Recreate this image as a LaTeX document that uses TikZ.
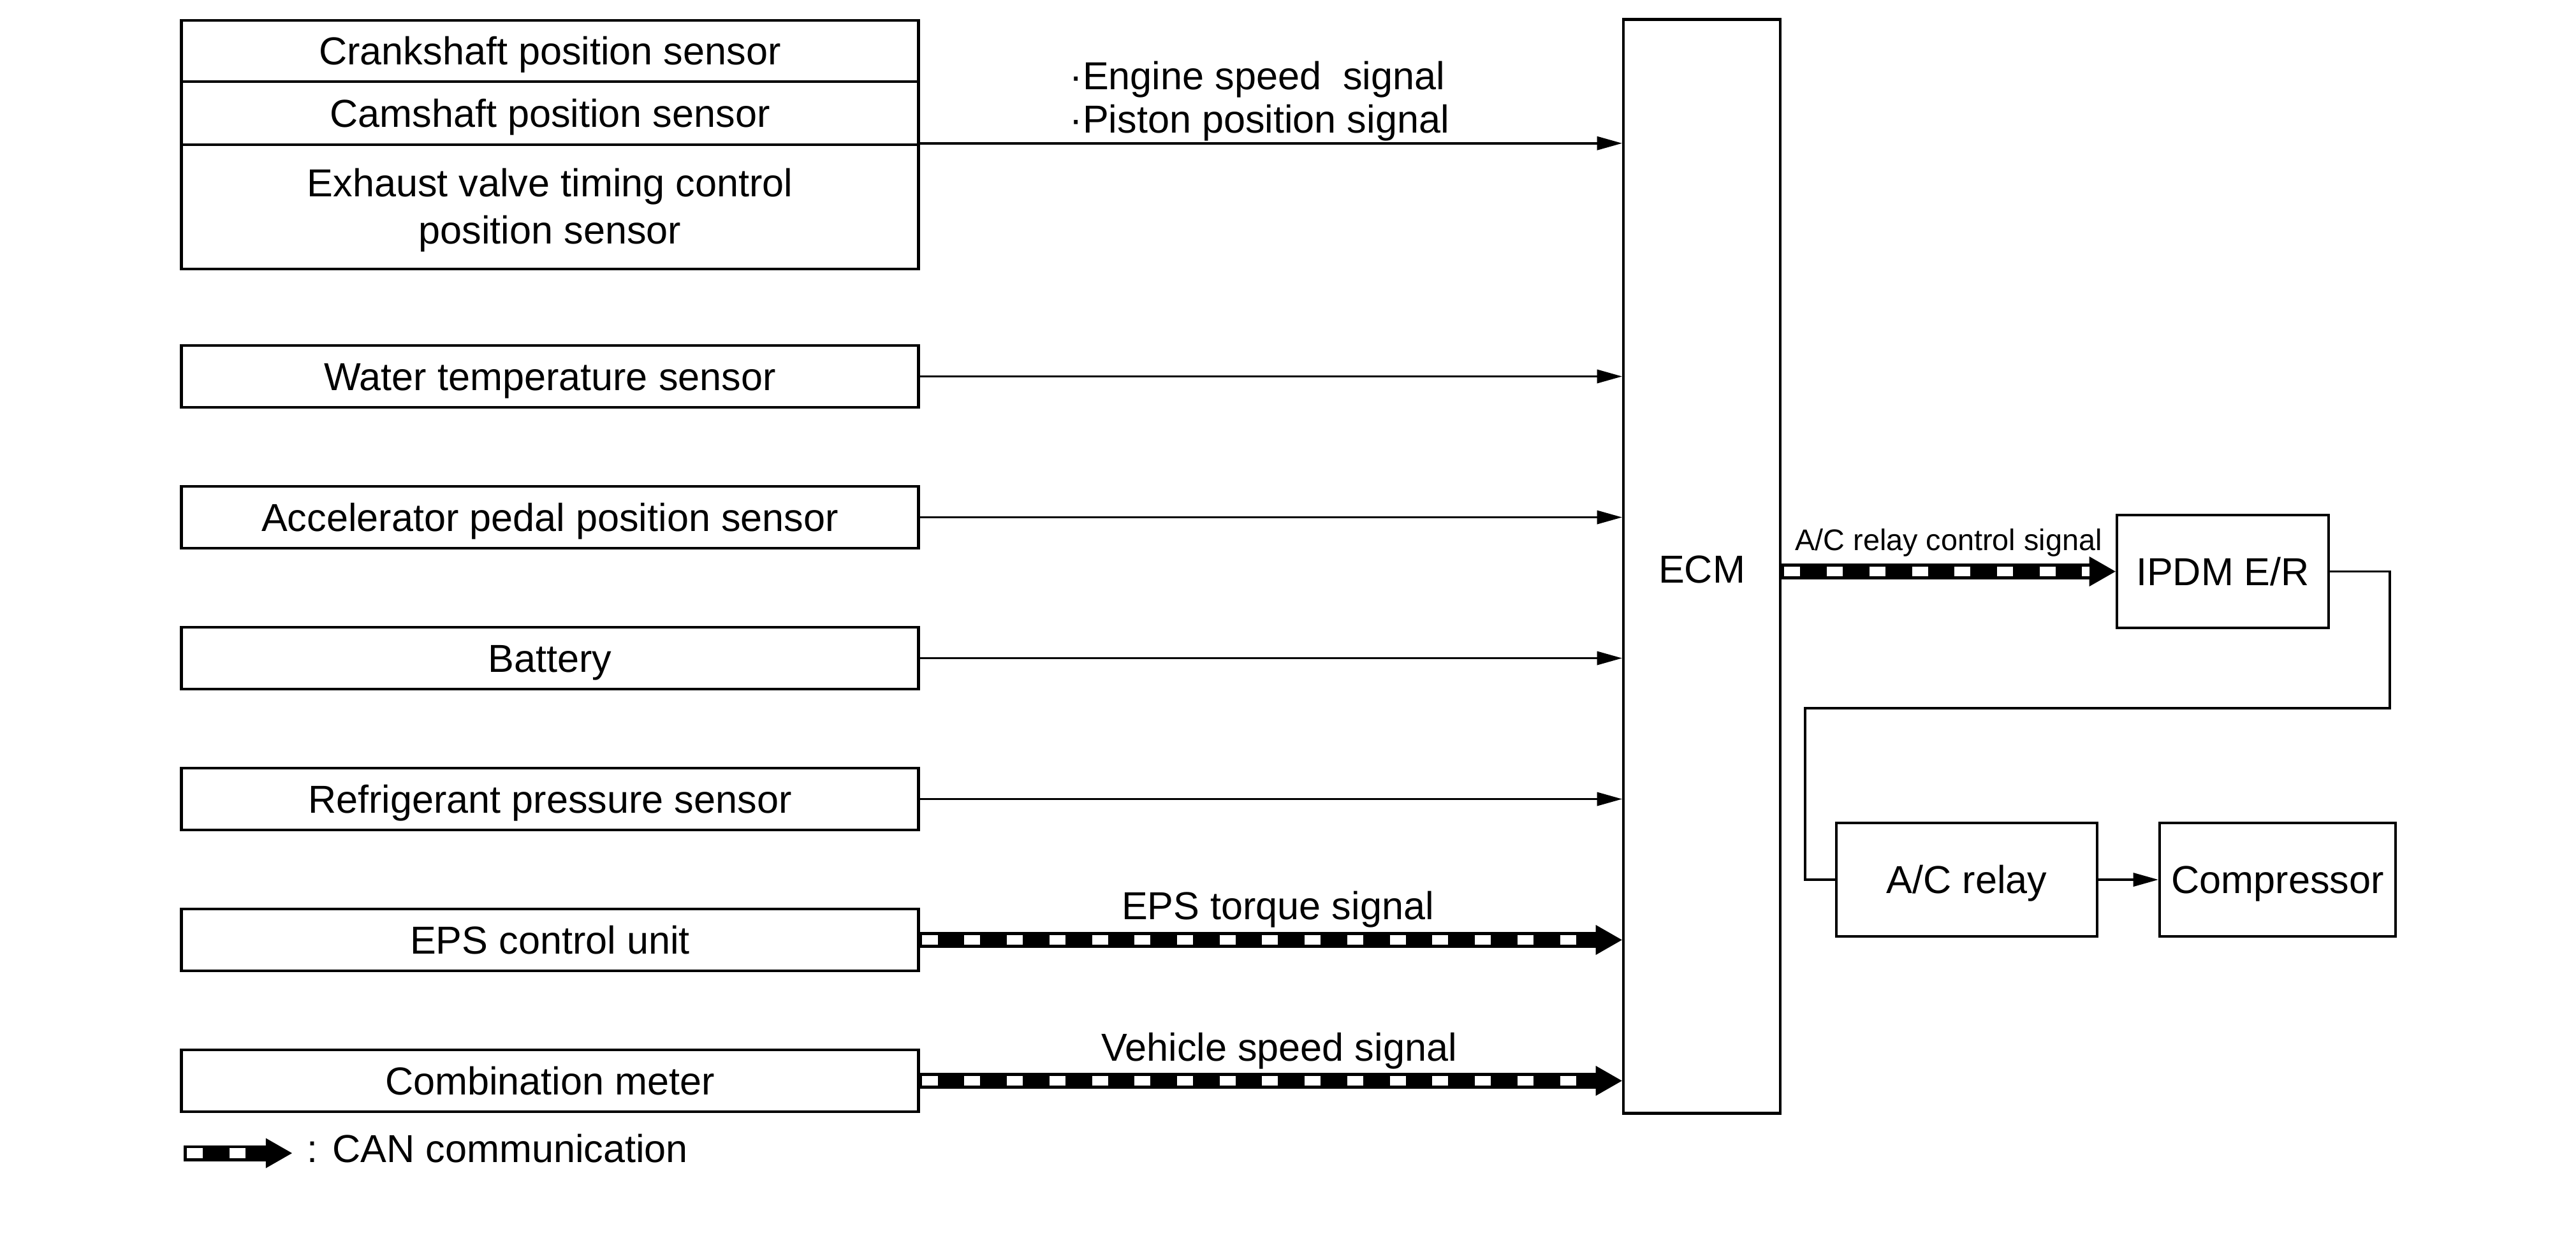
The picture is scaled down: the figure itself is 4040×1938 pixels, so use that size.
\documentclass[tikz,border=0pt]{standalone}
\usepackage{fontspec}
\setmainfont{Liberation Sans}
\usetikzlibrary{arrows.meta}
\begin{document}
\begin{tikzpicture}[x=0.01cm,y=-0.01cm,
  txt/.style={font=\fontsize{17.4}{19.8}\selectfont},
  frame/.style={draw, line width=1.25pt, inner sep=0pt, txt},
  box/.style={frame, text height=0.438cm, text depth=0pt},
  sig/.style={line width=1pt, -{Triangle[length=0.39cm,width=0.22cm,line width=0pt]}},
  wire/.style={line width=1pt},
  canbar/.style={line width=0.25cm, -{Triangle[length=0.41cm,width=0.47cm,line width=0pt]}},
  canwhite/.style={draw=white, line width=0.155cm, dash pattern=on 0.25cm off 0.417cm, shorten <=0.03cm, shorten >=0.41cm},
]
\useasboundingbox (0,0) rectangle (4040,1938);

% left column
\node[box, minimum width=11.55cm, minimum height=0.96cm] (crank) at (862.5,80) {Crankshaft position sensor};
\node[box, minimum width=11.55cm, minimum height=0.99cm] (cam) at (862.5,177.5) {Camshaft position sensor};
\node[frame, minimum width=11.55cm, minimum height=1.95cm, align=center, font=\fontsize{17.4}{21.2}\selectfont] (exh) at (862.5,324.5) {\rule{0pt}{0.547cm}Exhaust valve timing control\\position sensor};
\node[box, minimum width=11.55cm, minimum height=0.97cm] (water) at (862.5,590.5) {Water temperature sensor};
\node[box, minimum width=11.55cm, minimum height=0.97cm] (accel) at (862.5,811.5) {Accelerator pedal position sensor};
\node[box, minimum width=11.55cm, minimum height=0.97cm] (batt) at (862.5,1032.5) {Battery};
\node[box, minimum width=11.55cm, minimum height=0.97cm] (refr) at (862.5,1253.5) {Refrigerant pressure sensor};
\node[box, minimum width=11.55cm, minimum height=0.97cm] (eps) at (862.5,1474.5) {EPS control unit};
\node[box, minimum width=11.55cm, minimum height=0.97cm] (comb) at (862.5,1695.5) {Combination meter};

% right side
\node[box, minimum width=2.46cm, minimum height=17.15cm] (ecm) at (2669,888.5) {\raisebox{-0.04cm}{ECM}};
\node[box, minimum width=3.32cm, minimum height=1.77cm] (ipdm) at (3486,896.5) {IPDM E/R};
\node[box, minimum width=4.09cm, minimum height=1.78cm] (relay) at (3084.5,1380) {A/C relay};
\node[box, minimum width=3.70cm, minimum height=1.78cm] (comp) at (3572,1380) {Compressor};

% signal arrows
\draw[sig] (exh.north east) -- (exh.north east -| ecm.west);
\foreach \n in {water,accel,batt,refr} {
  \draw[sig] (\n.east) -- (\n.east -| ecm.west);
}
\foreach \n in {eps,comb} {
  \draw[canbar] (\n.east) -- (\n.east -| ecm.west);
  \draw[canwhite] (\n.east) -- (\n.east -| ecm.west);
}
\draw[canbar] (ecm.east |- ipdm.west) -- (ipdm.west);
\draw[canwhite, shorten <=0.04cm] (ecm.east |- ipdm.west) -- (ipdm.west);

% labels
\node[txt, anchor=base west, inner sep=0pt] (lblEng) at (1677,140) {·Engine speed~ signal};
\node[txt, anchor=base west, inner sep=0pt] (lblPis) at (1677,208) {·Piston position signal};
\node[txt, anchor=base, inner sep=0pt] (lblEps) at (2004,1442) {EPS torque signal};
\node[txt, anchor=base, inner sep=0pt] (lblVeh) at (2006,1664) {Vehicle speed signal};
\node[font=\fontsize{13.3}{15}\selectfont, anchor=base, inner sep=0pt] (lblAC) at (3056,863) {A/C relay control signal};

% IPDM to relay
\coordinate (bendA) at (3748,1111);
\coordinate (bendB) at (2831,1111);
\draw[wire] (ipdm.east) -| (bendA) -- (bendB) |- (relay.west);
\draw[sig] (relay.east) -- (comp.west);

% legend
\coordinate (legA) at (288,1809);
\coordinate (legB) at (458,1809);
\draw[canbar] (legA) -- (legB);
\draw[canwhite, shorten <=0.05cm] (legA) -- (legB);
\node[txt, anchor=base west, inner sep=0pt] (legT) at (481,1823) {: CAN communication};
\end{tikzpicture}
\end{document}
